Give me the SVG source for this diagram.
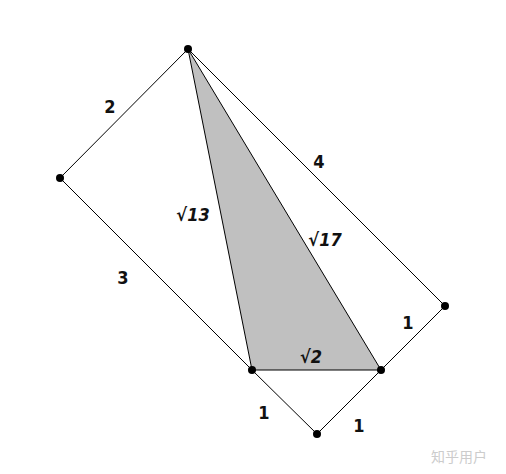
<svg xmlns="http://www.w3.org/2000/svg" width="506" height="474" viewBox="0 0 506 474">
<style>
.e{stroke:#000;stroke-width:1;fill:none}
.d{fill:#000}
.t{font-family:"DejaVu Sans Condensed","DejaVu Sans","Liberation Sans",sans-serif;font-weight:bold;font-size:18px;fill:#111;text-anchor:middle}
.s{font-style:italic}
.w{font-family:"Noto Sans CJK SC",sans-serif;font-size:14px;fill:#ccc}
</style>
<rect width="506" height="474" fill="#fff"/>
<polygon points="188,49 252,370 381,370" fill="#c0c0c0"/>
<g id="connectors">
<line class="e" x1="188" y1="49" x2="60" y2="178"/>
<line class="e" x1="60" y1="178" x2="252" y2="370"/>
<line class="e" x1="188" y1="49" x2="445" y2="306"/>
<line class="e" x1="445" y1="306" x2="381" y2="370"/>
<line class="e" x1="188" y1="49" x2="252" y2="370"/>
<line class="e" x1="188" y1="49" x2="381" y2="370"/>
<line class="e" x1="252" y1="370" x2="381" y2="370"/>
<line class="e" x1="252" y1="370" x2="317" y2="434"/>
<line class="e" x1="317" y1="434" x2="381" y2="370"/>
</g>
<g id="A"><circle class="d" cx="188" cy="49" r="4"/></g>
<g id="B"><circle class="d" cx="60" cy="178" r="4"/></g>
<g id="C"><circle class="d" cx="252" cy="370" r="4"/></g>
<g id="D"><circle class="d" cx="381" cy="370" r="4"/></g>
<g id="E"><circle class="d" cx="445" cy="306" r="4"/></g>
<g id="F"><circle class="d" cx="317" cy="434" r="4"/></g>
<g id="labels">
<text class="t" x="110" y="113">2</text>
<text class="t" x="123" y="284">3</text>
<text class="t" x="319" y="168">4</text>
<text class="t s" x="193" y="221">√13</text>
<text class="t s" x="325" y="246">√17</text>
<text class="t s" x="311" y="363">√2</text>
<text class="t" x="408" y="329">1</text>
<text class="t" x="264" y="419">1</text>
<text class="t" x="359" y="432">1</text>
</g>
<text class="w" x="431" y="462">知乎用户</text>
</svg>
